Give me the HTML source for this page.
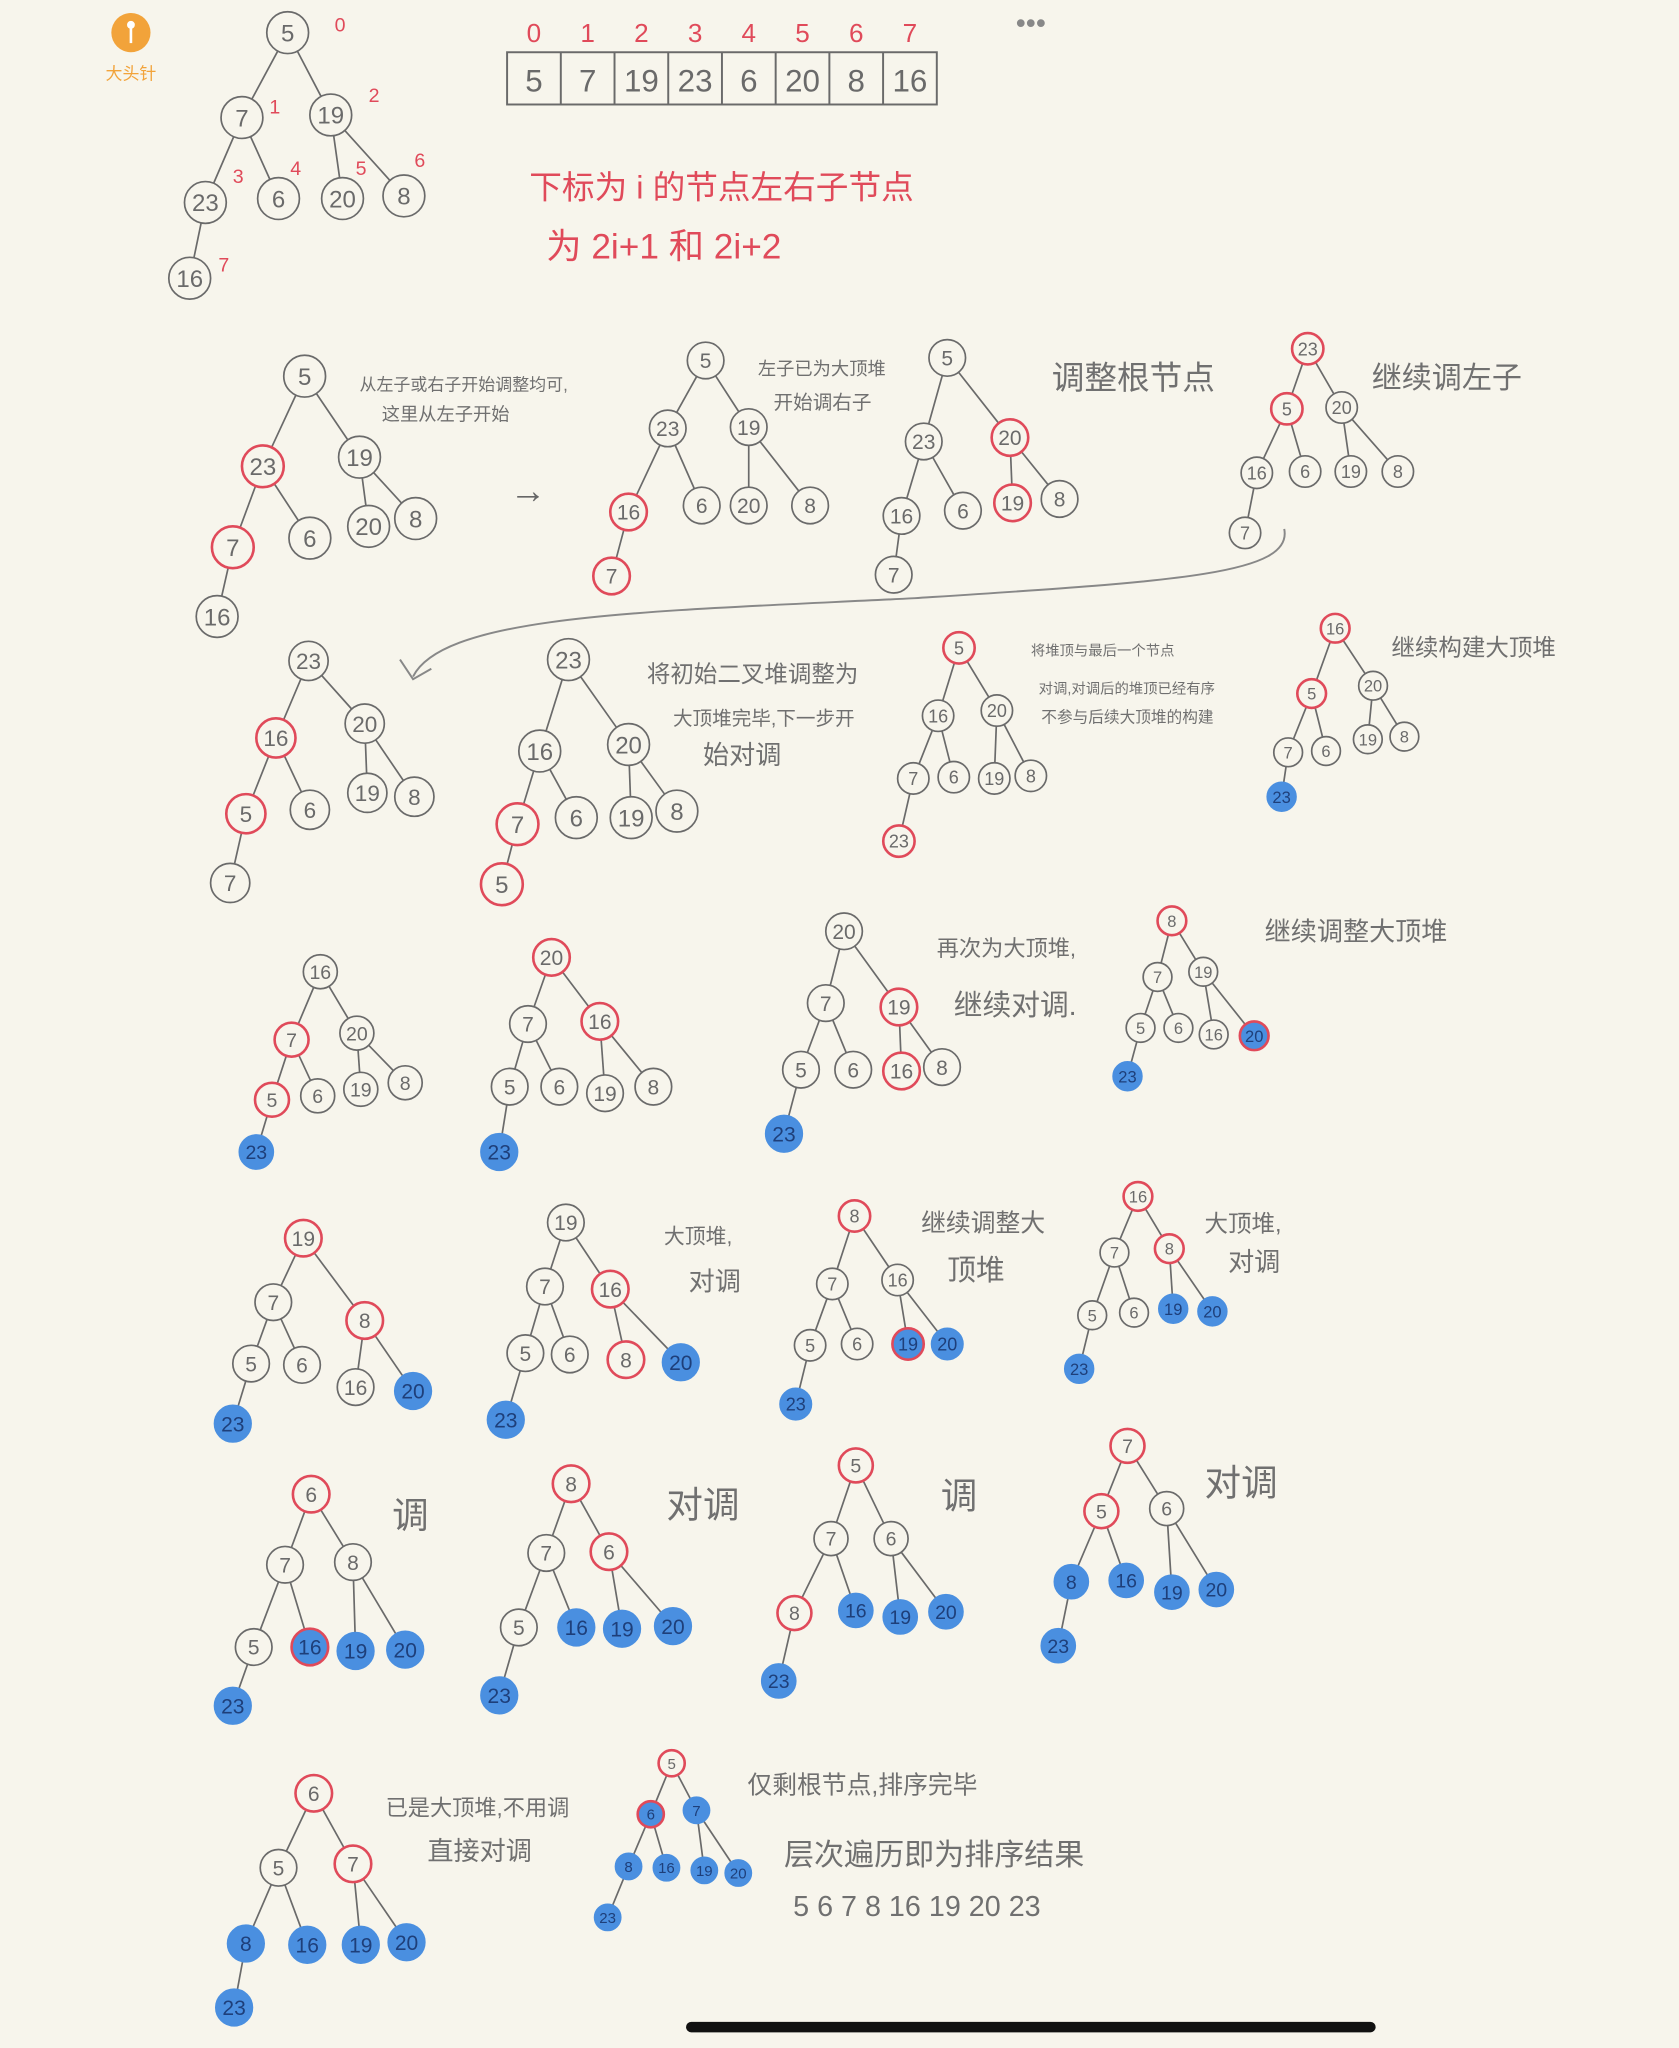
<!DOCTYPE html>
<html><head><meta charset="utf-8"><style>
html,body{margin:0;padding:0;background:#f7f5ec;}
svg{display:block;}
text{font-family:"Liberation Sans","Noto Sans CJK SC",sans-serif;}
</style></head><body>
<svg id="s" width="1679" height="2048" viewBox="0 0 1285 1568" xmlns="http://www.w3.org/2000/svg">
<rect x="0" y="0" width="1285" height="1568" fill="#f7f5ec"/>
<g>
<circle cx="100" cy="25" r="15" fill="#f2a33a"/>
<line x1="100" y1="20" x2="100" y2="33" stroke="#fff" stroke-width="2"/>
<circle cx="100" cy="19" r="3" fill="#fff"/>
<text x="100" y="61" font-size="13" fill="#f2a33a" text-anchor="middle">大头针</text>
</g>
<text x="789" y="25" font-size="22" fill="#888" text-anchor="middle">•••</text>
<g id="arr"></g>
<text x="405" y="152" font-size="25" fill="#e04a5a">下标为 i 的节点左右子节点</text>
<text x="418" y="198" font-size="27" fill="#e04a5a">为 2i+1 和 2i+2</text>
<text x="390" y="385" font-size="28" fill="#666">→</text>
<path d="M983,405 C990,440 900,445 700,458 C500,468 340,470 316,518" fill="none" stroke="#888" stroke-width="1.5"/>
<path d="M306,505 L316,520 L330,512" fill="none" stroke="#888" stroke-width="1.5"/>
<g id="trees"></g>
<g id="notes"></g>
<rect x="525" y="1548" width="528" height="8" rx="4" fill="#111"/>
</svg>
<script>
const arrValues=[5,7,19,23,6,20,8,16];
const RED="#e04a5a",BLUE="#4a8fe0",INK="#6a6a6a";
const NS="http://www.w3.org/2000/svg";
function mk(tag,attrs,parent){const e=document.createElementNS(NS,tag);for(const k in attrs)e.setAttribute(k,attrs[k]);parent.appendChild(e);return e;}
const arr=document.getElementById('arr');
const ax0=388,aw=329/8;
mk('rect',{x:ax0,y:40,width:329,height:40,fill:'none',stroke:INK,'stroke-width':1.5},arr);
arrValues.forEach((v,i)=>{
  if(i>0)mk('line',{x1:ax0+i*aw,y1:40,x2:ax0+i*aw,y2:80,stroke:INK,'stroke-width':1.5},arr);
  const t=mk('text',{x:ax0+i*aw+aw/2,y:70,'font-size':24,fill:INK,'text-anchor':'middle'},arr);t.textContent=v;
  
  
  const ix=mk('text',{x:ax0+i*aw+aw/2,y:32,'font-size':20,fill:RED,'text-anchor':'middle'},arr);ix.textContent=i;
  
  
});
const trees=[
 {r:16,n:[[5,220,25,'n'],[7,185,90,'n'],[19,253,88,'n'],[23,157,155,'n'],[6,213,152,'n'],[20,262,152,'n'],[8,309,150,'n'],[16,145,213,'n']]},
 {r:16,n:[[5,233,288,'n'],[23,201,357,'r'],[19,275,350,'n'],[7,178,419,'r'],[6,237,412,'n'],[20,282,403,'n'],[8,318,397,'n'],[16,166,472,'n']]},
 {r:14,n:[[5,540,276,'n'],[23,511,328,'n'],[19,573,327,'n'],[16,481,392,'r'],[6,537,387,'n'],[20,573,387,'n'],[8,620,387,'n'],[7,468,441,'r']]},
 {r:14,n:[[5,725,274,'n'],[23,707,338,'n'],[20,773,335,'r'],[16,690,395,'n'],[6,737,391,'n'],[19,775,385,'r'],[8,811,382,'n'],[7,684,440,'n']]},
 {r:12,n:[[23,1001,267,'r'],[5,985,313,'r'],[20,1027,312,'n'],[16,962,362,'n'],[6,999,361,'n'],[19,1034,361,'n'],[8,1070,361,'n'],[7,953,408,'n']]},
 {r:15,n:[[23,236,506,'n'],[16,211,565,'r'],[20,279,554,'n'],[5,188,623,'r'],[6,237,620,'n'],[19,281,607,'n'],[8,317,610,'n'],[7,176,676,'n']]},
 {r:16,n:[[23,435,505,'n'],[16,413,575,'n'],[20,481,570,'n'],[7,396,631,'r'],[6,441,626,'n'],[19,483,626,'n'],[8,518,621,'n'],[5,384,677,'r']]},
 {r:12,n:[[5,734,496,'r'],[16,718,548,'n'],[20,763,544,'n'],[7,699,596,'n'],[6,730,595,'n'],[19,761,596,'n'],[8,789,594,'n'],[23,688,644,'r']]},
 {r:11,n:[[16,1022,481,'r'],[5,1004,531,'r'],[20,1051,525,'n'],[7,986,576,'n'],[6,1015,575,'n'],[19,1047,566,'n'],[8,1075,564,'n'],[23,981,610,'b']]},
 {r:13,n:[[16,245,744,'n'],[7,223,796,'r'],[20,273,791,'n'],[5,208,842,'r'],[6,243,839,'n'],[19,276,834,'n'],[8,310,829,'n'],[23,196,882,'b']]},
 {r:14,n:[[20,422,733,'r'],[7,404,784,'n'],[16,459,782,'r'],[5,390,832,'n'],[6,428,832,'n'],[19,463,837,'n'],[8,500,832,'n'],[23,382,882,'b']]},
 {r:14,n:[[20,646,713,'n'],[7,632,768,'n'],[19,688,771,'r'],[5,613,819,'n'],[6,653,819,'n'],[16,690,820,'r'],[8,721,817,'n'],[23,600,868,'b']]},
 {r:11,n:[[8,897,705,'r'],[7,886,748,'n'],[19,921,744,'n'],[5,873,787,'n'],[6,902,787,'n'],[16,929,792,'n'],[20,960,793,'rb'],[23,863,824,'b']]},
 {r:14,n:[[19,232,948,'r'],[7,209,997,'n'],[8,279,1011,'r'],[5,192,1044,'n'],[6,231,1045,'n'],[16,272,1062,'n'],[20,316,1065,'b'],[23,178,1090,'b']]},
 {r:14,n:[[19,433,936,'n'],[7,417,985,'n'],[16,467,987,'r'],[5,402,1036,'n'],[6,436,1037,'n'],[8,479,1041,'r'],[20,521,1043,'b'],[23,387,1087,'b']]},
 {r:12,n:[[8,654,931,'r'],[7,637,983,'n'],[16,687,980,'n'],[5,620,1030,'n'],[6,656,1029,'n'],[19,695,1029,'rb'],[20,725,1029,'b'],[23,609,1075,'b']]},
 {r:11,n:[[16,871,916,'r'],[7,853,959,'n'],[8,895,956,'r'],[5,836,1007,'n'],[6,868,1005,'n'],[19,898,1002,'b'],[20,928,1004,'b'],[23,826,1048,'b']]},
 {r:14,n:[[6,238,1144,'r'],[7,218,1198,'n'],[8,270,1196,'n'],[5,194,1261,'n'],[16,237,1261,'rb'],[19,272,1264,'b'],[20,310,1263,'b'],[23,178,1306,'b']]},
 {r:14,n:[[8,437,1136,'r'],[7,418,1189,'n'],[6,466,1188,'r'],[5,397,1246,'n'],[16,441,1246,'b'],[19,476,1247,'b'],[20,515,1245,'b'],[23,382,1298,'b']]},
 {r:13,n:[[5,655,1122,'r'],[7,636,1178,'n'],[6,682,1178,'n'],[8,608,1235,'r'],[16,655,1233,'b'],[19,689,1238,'b'],[20,724,1234,'b'],[23,596,1287,'b']]},
 {r:13,n:[[7,863,1107,'r'],[5,843,1157,'r'],[6,893,1155,'n'],[8,820,1211,'b'],[16,862,1210,'b'],[19,897,1219,'b'],[20,931,1217,'b'],[23,810,1260,'b']]},
 {r:14,n:[[6,240,1373,'r'],[5,213,1430,'n'],[7,270,1427,'r'],[8,188,1488,'b'],[16,235,1489,'b'],[19,276,1489,'b'],[20,311,1487,'b'],[23,179,1537,'b']]},
 {r:10,n:[[5,514,1350,'r'],[6,498,1389,'rb'],[7,533,1386,'b'],[8,481,1429,'b'],[16,510,1430,'b'],[19,539,1432,'b'],[20,565,1434,'b'],[23,465,1468,'b']]}
];
const tg=document.getElementById('trees');
trees.forEach((t,ti)=>{
  const g=mk('g',{},tg);
  
  
  t.n.forEach((nd,i)=>{ if(i===0)return; const p=t.n[Math.floor((i-1)/2)];
    const dx=nd[1]-p[1],dy=nd[2]-p[2],d=Math.hypot(dx,dy),ux=dx/d,uy=dy/d;
    const l=mk('line',{x1:p[1]+ux*t.r,y1:p[2]+uy*t.r,x2:nd[1]-ux*t.r,y2:nd[2]-uy*t.r,stroke:INK,'stroke-width':1.3},g);
    
    
  });
  t.n.forEach(nd=>{
    const st=nd[3];
    const fill=st.includes('b')?BLUE:'none';
    const stroke=st.includes('r')?RED:(st==='b'?BLUE:INK);
    const c=mk('circle',{cx:nd[1],cy:nd[2],r:t.r,fill:fill,stroke:stroke,'stroke-width':st.includes('r')?2:1.3},g);
    
    
    const tx=mk('text',{x:nd[1],y:nd[2]+t.r*0.42,'font-size':t.r*1.15,fill:st.includes('b')?'#1e3f7a':INK,'text-anchor':'middle'},g);
    tx.textContent=nd[0];
    
    
  });
});
const idxPos=[[256,24],[206,87],[282,78],[178,140],[222,134],[272,134],[317,128],[167,208]];
idxPos.forEach((p,i)=>{const t=mk('text',{x:p[0],y:p[1],'font-size':15,fill:RED},tg);t.textContent=i;
  
  });
const notes=[
 ["从左子或右子开始调整均可,",275,299,13],["这里从左子开始",292,322,14],
 ["左子已为大顶堆",580,287,14],["开始调右子",592,313,15],
 ["调整根节点",805,298,25],["继续调左子",1050,297,23],
 ["将初始二叉堆调整为",495,522,18],["大顶堆完毕,下一步开",515,555,15],["始对调",538,585,20],
 ["将堆顶与最后一个节点",789,502,11],["对调,对调后的堆顶已经有序",795,531,11],["不参与后续大顶堆的构建",797,553,12],
 ["继续构建大顶堆",1065,502,18],
 ["再次为大顶堆,",717,732,17],["继续对调.",730,777,22],["继续调整大顶堆",968,720,20],
 ["大顶堆,",508,952,16],["对调",527,988,20],["继续调整大",705,943,19],["顶堆",725,980,22],
 ["大顶堆,",922,943,18],["对调",940,973,20],
 ["调",300,1170,28],["对调",510,1162,28],["调",720,1155,28],["对调",922,1145,28],
 ["已是大顶堆,不用调",295,1390,17],["直接对调",327,1424,20],
 ["仅剩根节点,排序完毕",572,1373,19],["层次遍历即为排序结果",600,1428,23],["5 6 7 8 16 19 20 23",607,1467,22]
];
const ng=document.getElementById('notes');
notes.forEach(n=>{const t=mk('text',{x:n[1],y:n[2],'font-size':n[3],fill:'#707070'},ng);t.textContent=n[0];
  
  });
</script>
</body></html>
